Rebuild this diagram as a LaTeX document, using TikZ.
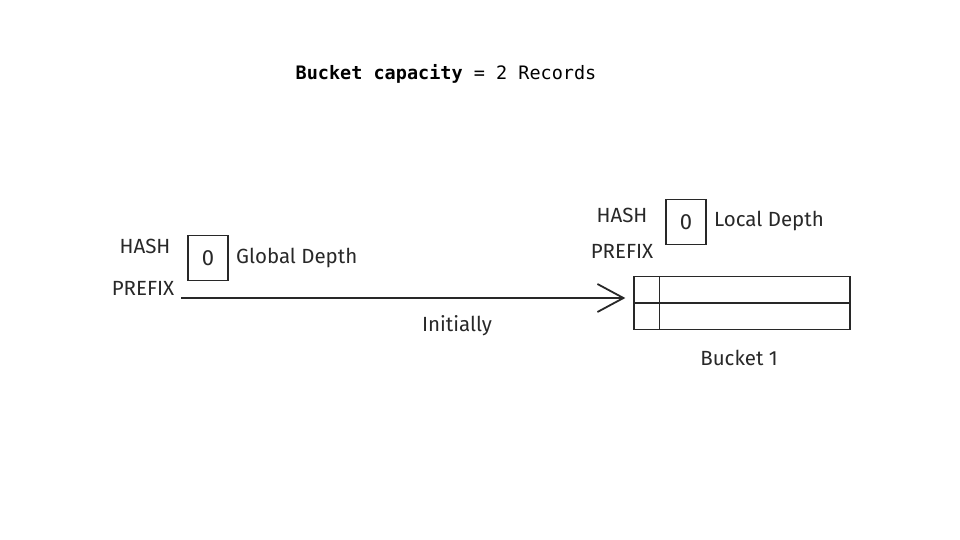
\documentclass[tikz,border=0pt]{standalone}
\usepackage{fontspec}
\setmainfont{Fira Sans}
\setmonofont{DejaVu Sans Mono}
\usetikzlibrary{arrows.meta}
\definecolor{ink}{RGB}{40,40,40}
\tikzstyle{label} = [font=\fontsize{20.5}{24}\selectfont, inner sep=0pt, text=ink]
\tikzstyle{depthbox} = [draw=ink, line width=1.3pt, minimum width=40pt, minimum height=45pt, font=\fontsize{22}{26}\selectfont, text=ink]
\tikzstyle{arrow} = [draw=ink, line width=1.8pt,-{Straight Barb[length=26pt,width=28pt]}]

\begin{document}
\begin{tikzpicture}[x=1pt,y=-1pt]
\useasboundingbox (0,0) rectangle (960,540);

\node[font=\ttfamily\fontsize{18.5}{22}\selectfont] (title) at (446,74) {\textbf{Bucket capacity} = 2 Records};

% global directory
\node[label] (hashG) at (145,246) {HASH};
\node[label] (prefixG) at (143,288) {PREFIX};
\node[depthbox] (globalbox) at (208,258) {0};
\node[label, anchor=west] (globaltxt) at (236,258) {Global Depth};

% bucket
\node[label] (hashL) at (622,215) {HASH};
\node[label] (prefixL) at (622,251) {PREFIX};
\node[depthbox] (localbox) at (686,222) {0};
\node[label, anchor=west] (localtxt) at (714,221) {Local Depth};

\node[draw=ink, line width=1.3pt, minimum width=216pt, minimum height=53pt, inner sep=0pt] (bucket) at (742,303) {};
\draw[ink, line width=2pt] (bucket.west) -- (bucket.east);
\draw[ink, line width=1.3pt] ([xshift=26pt]bucket.north west) -- ([xshift=26pt]bucket.south west);
\node[label] (bucketname) at (739,358) {Bucket 1};

\coordinate (start) at (181,298);
\draw[arrow] (start) -- ([xshift=-8pt]bucket.west |- start);
\node[label] (initially) at (457,326) {Initially};

\end{tikzpicture}
\end{document}
